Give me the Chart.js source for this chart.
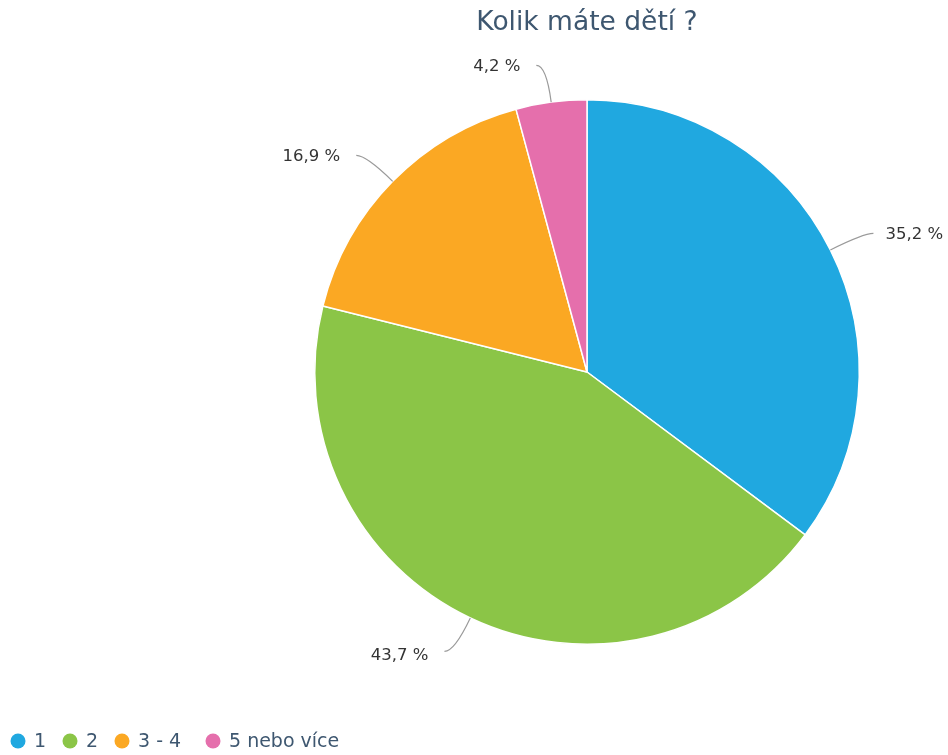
<!DOCTYPE html>
<html><head><meta charset="utf-8">
<script src="https://cdn.jsdelivr.net/npm/chart.js@4"></script>
<style>html,body{margin:0;padding:0;background:#fff}#wrap{width:948px;height:755px}</style>
</head><body><div id="wrap"><canvas id="c" width="948" height="755"></canvas></div>
<script>
const categories = ["1", "2", "3 - 4", "5 nebo více"];
const values = [35.2, 43.7, 16.9, 4.2];
const colors = ["#20a8e0", "#8bc547", "#fba823", "#e56fac"];
const titleText = "Kolik máte dětí ?";

const FONT = "'DejaVu Sans', sans-serif";
const textColor = "#3e5770";

const labelPlugin = {
  id: 'custom',
  afterDraw(chart) {
    const ctx = chart.ctx;
    const meta = chart.getDatasetMeta(0);
    ctx.save();
    // title
    const a0 = meta.data[0];
    ctx.fillStyle = textColor;
    ctx.font = "26.5px " + FONT;
    ctx.textAlign = "center";
    ctx.textBaseline = "middle";
    ctx.fillText(titleText, a0.x, 23);
    // labels
    meta.data.forEach((arc, i) => {
      const mid = (arc.startAngle + arc.endAngle) / 2;
      const r = arc.outerRadius;
      const cx = Math.cos(mid), sy = Math.sin(mid);
      const ax = arc.x + cx * r, ay = arc.y + sy * r;
      const bx = arc.x + cx * (r + 37), by = arc.y + sy * (r + 37);
      const dir = cx >= 0 ? 1 : -1;
      const ex = bx + dir * 10, ey = by;
      ctx.strokeStyle = "#9a9a9a";
      ctx.lineWidth = 1.2;
      ctx.beginPath();
      ctx.moveTo(ax, ay);
      ctx.quadraticCurveTo(bx, by, ex, ey);
      ctx.stroke();
      ctx.fillStyle = "#333333";
      ctx.font = "16.5px " + FONT;
      ctx.textAlign = dir > 0 ? "left" : "right";
      ctx.textBaseline = "middle";
      ctx.fillText(values[i].toFixed(1).replace('.', ',') + " %", ex + dir * (dir > 0 ? 12 : 16), ey + (sy > 0.5 ? 4 : 1));
    });
    // legend
    const lx = [18, 70, 122, 213];
    categories.forEach((c, i) => {
      ctx.fillStyle = colors[i];
      ctx.beginPath();
      ctx.arc(lx[i], 741, 7.5, 0, Math.PI * 2);
      ctx.fill();
      ctx.fillStyle = textColor;
      ctx.font = "19px " + FONT;
      ctx.textAlign = "left";
      ctx.textBaseline = "middle";
      ctx.fillText(c, lx[i] + 16, 742);
    });
    ctx.restore();
  }
};

new Chart(document.getElementById('c'), {
  type: 'pie',
  data: {
    labels: categories,
    datasets: [{
      data: values,
      backgroundColor: colors,
      borderColor: "#ffffff",
      borderWidth: 1.5,
      hoverOffset: 0
    }]
  },
  options: {
    responsive: false,
    animation: false,
    layout: { padding: { left: 240, right: 14, top: 99, bottom: 110 } },
    plugins: { legend: { display: false }, title: { display: false }, tooltip: { enabled: false } }
  },
  plugins: [labelPlugin]
});
</script></body></html>
